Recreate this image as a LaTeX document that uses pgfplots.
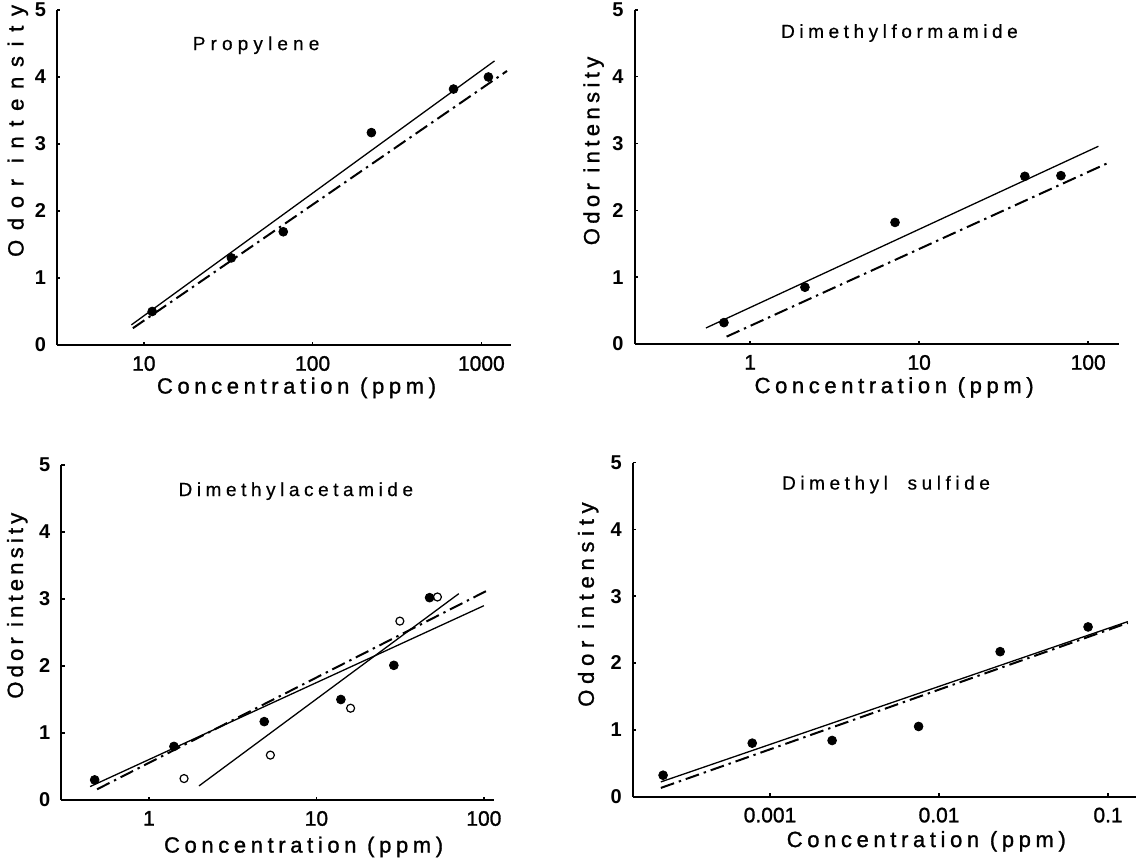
\documentclass[border=0pt]{standalone}
\usepackage{fontspec}
\setmainfont{Liberation Sans}
\newfontfamily\labfont[LetterSpace=21,FakeBold=1.2]{Liberation Sans}
\newfontfamily\tickfont[FakeBold=1.2]{Liberation Sans}
\newfontfamily\ylabA[LetterSpace=44,FakeBold=1.2]{Liberation Sans}
\newfontfamily\ylabB[LetterSpace=20,FakeBold=1.2]{Liberation Sans}
\newfontfamily\ylabC[LetterSpace=19,FakeBold=1.2]{Liberation Sans}
\newfontfamily\ylabD[LetterSpace=26,FakeBold=1.2]{Liberation Sans}
\newfontfamily\titA[LetterSpace=27,FakeBold=0.5]{Liberation Sans}
\newfontfamily\titB[LetterSpace=24,FakeBold=0.5]{Liberation Sans}
\usepackage{pgfplots}
\pgfplotsset{compat=1.18}
\pgfplotsset{
  every axis/.append style={
    scale only axis, ymin=0, ymax=5,
    axis x line=bottom, axis y line=left,
    axis line style={-, line width=1pt},
    ytick={0,1,2,3,4,5}, yticklabels={0,1,2,3,4,5},
    yticklabel style={font=\bfseries\fontsize{10}{12}\selectfont, xshift=-2pt},
    xticklabel style={font=\tickfont\fontsize{10.5}{12}\selectfont, yshift=-2pt},
    xminorticks=false,
    tick align=inside, major tick length=1.6pt,
    tick style={line width=0.7pt, black},
    clip=false,
    xlabel={\labfont Concentration (ppm)},
  },
  mysolid/.style={black, line width=0.65pt, no marks},
  mydd/.style={black, line width=1pt, no marks, dash pattern=on 7pt off 2.5pt on 1.2pt off 2.5pt},
  myfull/.style={only marks, mark=*, mark size=2.2pt, black},
  myopen/.style={only marks, mark=o, mark size=2pt, black, mark options={line width=0.6pt, fill=white}},
}
\begin{document}
\begin{tikzpicture}
\path[use as bounding box] (0pt,0pt) rectangle (569pt,430.5pt);
% Panel 1: Propylene
\begin{semilogxaxis}[at={(28.55pt,258pt)}, anchor=south west, width=227.15pt, height=167.5pt,
  xmin=3.06, xmax=1507, xtick={10,100,1000}, xticklabels={10,100,1000},
  ylabel={\ylabA Odor intensity},
  xlabel style={at={(axis description cs:0.527,-0.128)}, anchor=center, font=\fontsize{11}{13}\selectfont},
  ylabel style={at={(axis description cs:-0.0865,0.639)}, anchor=center, font=\fontsize{11}{13}\selectfont}]
\addplot[mysolid] coordinates {(8.43,0.30) (1197,4.24)};
\addplot[mydd] coordinates {(8.6,0.25) (1419,4.09)};
\addplot[myfull] coordinates {(11.2,0.5) (33,1.3) (67,1.69) (223,3.17) (684,3.82) (1101,4.0)};
\node[font=\titA\fontsize{9.5}{11}\selectfont] at (axis description cs:0.438,0.895) {Propylene};
\end{semilogxaxis}
% Panel 2: Dimethylformamide
\begin{semilogxaxis}[at={(317.25pt,258.5pt)}, anchor=south west, width=242.2pt, height=167pt,
  xmin=0.207, xmax=152, xtick={1,10,100}, xticklabels={1,10,100},
  ylabel={\ylabB Odor intensity},
  xlabel style={at={(axis description cs:0.536,-0.13)}, anchor=center, font=\fontsize{11}{13}\selectfont},
  ylabel style={at={(axis description cs:-0.0845,0.578)}, anchor=center, font=\fontsize{11}{13}\selectfont}]
\addplot[mysolid] coordinates {(0.548,0.24) (115,2.96)};
\addplot[mydd] coordinates {(0.726,0.11) (131,2.71)};
\addplot[myfull] coordinates {(0.70,0.32) (2.11,0.85) (7.2,1.82) (42.2,2.51) (69,2.52)};
\node[font=\titB\fontsize{9.5}{11}\selectfont] at (axis description cs:0.547,0.931) {Dimethylformamide};
\end{semilogxaxis}
% Panel 3: Dimethylacetamide
\begin{semilogxaxis}[at={(30.7pt,30.5pt)}, anchor=south west, width=216.25pt, height=167.5pt,
  xmin=0.30, xmax=114.8, xtick={1,10,100}, xticklabels={1,10,100},
  ylabel={\ylabC Odor intensity},
  xlabel style={at={(axis description cs:0.56,-0.14)}, anchor=center, font=\fontsize{11}{13}\selectfont},
  ylabel style={at={(axis description cs:-0.102,0.58)}, anchor=center, font=\fontsize{11}{13}\selectfont}]
\addplot[mysolid] coordinates {(0.445,0.20) (100,2.90)};
\addplot[mysolid] coordinates {(1.99,0.21) (70.9,3.08)};
\addplot[mydd] coordinates {(0.49,0.16) (103.5,3.12)};
\addplot[myfull] coordinates {(0.474,0.30) (1.41,0.80) (4.88,1.17) (14.0,1.50) (29.0,2.01) (47.4,3.02)};
\addplot[myopen] coordinates {(1.62,0.32) (5.31,0.67) (16.0,1.37) (31.5,2.67) (52.8,3.03)};
\node[font=\titB\fontsize{9.5}{11}\selectfont] at (axis description cs:0.542,0.922) {Dimethylacetamide};
\end{semilogxaxis}
% Panel 4: Dimethyl sulfide
\begin{semilogxaxis}[at={(316.35pt,32.2pt)}, anchor=south west, width=251.8pt, height=167pt,
  xmin=1.54e-4, xmax=0.147, xtick={0.001,0.01,0.1}, xticklabels={0.001,0.01,0.1},
  ylabel={\ylabD Odor intensity},
  xlabel style={at={(axis description cs:0.583,-0.134)}, anchor=center, font=\fontsize{11}{13}\selectfont},
  ylabel style={at={(axis description cs:-0.0885,0.575)}, anchor=center, font=\fontsize{11}{13}\selectfont}]
\addplot[mysolid] coordinates {(2.26e-4,0.22) (0.131,2.62)};
\addplot[mydd] coordinates {(2.26e-4,0.13) (0.131,2.60)};
\addplot[myfull] coordinates {(2.33e-4,0.32) (7.85e-4,0.80) (2.33e-3,0.84) (7.57e-3,1.05) (0.0230,2.17) (0.0762,2.54)};
\node[font=\titB\fontsize{9.5}{11}\selectfont] at (axis description cs:0.503,0.934) {Dimethyl\ \ sulfide};
\end{semilogxaxis}
\end{tikzpicture}
\end{document}
